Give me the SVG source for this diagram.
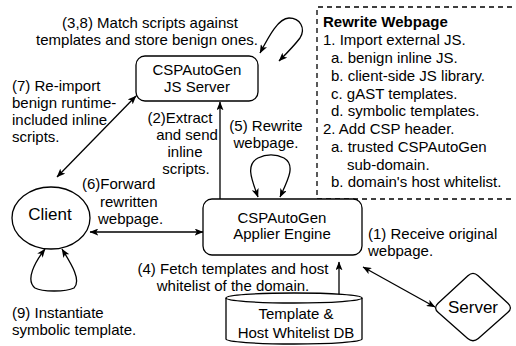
<svg xmlns="http://www.w3.org/2000/svg" width="516" height="346" viewBox="0 0 516 346">
<style>
text{font-family:"Liberation Sans",Arial,Helvetica,sans-serif;font-size:15px;fill:#000}
.m{text-anchor:middle}
.b{font-weight:bold}
.big{font-size:17px}
.shape{fill:#fff;stroke:#000;stroke-width:1.3}
.edge{fill:none;stroke:#000;stroke-width:1.3}
.dash{fill:none;stroke:#000;stroke-width:1.3;stroke-dasharray:5 4}
</style>
<defs>
<marker id="ah" viewBox="0 0 10 8" refX="9.5" refY="4" markerWidth="9" markerHeight="7" markerUnits="userSpaceOnUse" orient="auto-start-reverse">
<path d="M0,0 L10,4 L0,8 L2.5,4 z" fill="#000"/>
</marker>
</defs>

<g id="panel">
<path class="dash" d="M512 7 H317 V199 H512"/>
<text x="323" y="27" class="b">Rewrite Webpage</text>
<text x="323" y="45">1. Import external JS.</text>
<text x="331" y="63">a. benign inline JS.</text>
<text x="331" y="81">b. client-side JS library.</text>
<text x="331" y="99">c. gAST templates.</text>
<text x="331" y="116">d. symbolic templates.</text>
<text x="323" y="134">2. Add CSP header.</text>
<text x="331" y="152">a. trusted CSPAutoGen</text>
<text x="347" y="170">sub-domain.</text>
<text x="331" y="187">b. domain's host whitelist.</text>
</g>

<g id="connectors">
<line class="edge" x1="57" y1="177" x2="136" y2="96" marker-start="url(#ah)" marker-end="url(#ah)"/>
<line class="edge" x1="90" y1="232" x2="203" y2="232" marker-start="url(#ah)" marker-end="url(#ah)"/>
<line class="edge" x1="220" y1="202" x2="220" y2="102" marker-end="url(#ah)"/>
<line class="edge" x1="339" y1="262" x2="339" y2="303" marker-start="url(#ah)" marker-end="url(#ah)"/>
<line class="edge" x1="363" y1="267" x2="435" y2="307" marker-start="url(#ah)" marker-end="url(#ah)"/>
<path class="edge" d="M260 53 C268 38,278 18,289 18 C300 18,306 28,300 38 C294 46,286 54,279 61" marker-start="url(#ah)" marker-end="url(#ah)"/>
<path class="edge" d="M258 197 C252 180,245 165,258 158 C266 154,276 154,284 158 C296 165,288 180,280 197" marker-start="url(#ah)" marker-end="url(#ah)"/>
<path class="edge" d="M45 249 C35 262,25 280,35 288 C42 292,66 292,74 288 C82 280,70 262,62 249" marker-start="url(#ah)" marker-end="url(#ah)"/>
</g>

<g id="labels">
<text x="150" y="28" class="m">(3,8) Match scripts against</text>
<text x="147" y="45" class="m">templates and store benign ones.</text>
<text x="12" y="91">(7) Re-import</text>
<text x="12" y="108">benign runtime-</text>
<text x="12" y="125">included inline</text>
<text x="12" y="142">scripts.</text>
<text x="180" y="123" class="m">(2)Extract</text>
<text x="187" y="140" class="m">and send</text>
<text x="185" y="157" class="m">inline</text>
<text x="186" y="174" class="m">scripts.</text>
<text x="266" y="131" class="m">(5) Rewrite</text>
<text x="266" y="148" class="m">webpage.</text>
<text x="82" y="189">(6)Forward</text>
<text x="100" y="207">rewritten</text>
<text x="98" y="224">webpage.</text>
<text x="368" y="239">(1) Receive original</text>
<text x="368" y="256">webpage.</text>
<text x="233" y="274" class="m">(4) Fetch templates and host</text>
<text x="233" y="291" class="m">whitelist of the domain.</text>
<text x="12" y="318">(9) Instantiate</text>
<text x="12" y="335">symbolic template.</text>
</g>

<g id="js-server">
<rect class="shape" x="136" y="56" width="122" height="45" rx="9"/>
<text x="197" y="75" class="m">CSPAutoGen</text>
<text x="197" y="92" class="m">JS Server</text>
</g>

<g id="applier">
<rect class="shape" x="203" y="199" width="159" height="56" rx="9"/>
<text x="282" y="223" class="m">CSPAutoGen</text>
<text x="282" y="239" class="m">Applier Engine</text>
</g>

<g id="client">
<ellipse class="shape" cx="51" cy="218" rx="39" ry="31"/>
<text x="50" y="220" class="m big">Client</text>
</g>

<g id="server">
<path class="shape" d="M438.1 303.3 L467.9 275.7 Q473 271 478.1 275.7 L507.9 303.3 Q513 308 507.7 312.6 L478.3 338.4 Q473 343 467.7 338.4 L438.3 312.6 Q433 308 438.1 303.3 Z"/>
<text x="473" y="313" class="m big">Server</text>
</g>

<g id="db">
<path class="shape" d="M226 298 A68 5 0 0 1 362 298 V339 A68 5 0 0 1 226 339 Z"/>
<path class="edge" d="M226 298 A68 5 0 0 0 362 298"/>
<text x="296" y="319" class="m">Template &amp;</text>
<text x="296" y="338" class="m">Host Whitelist DB</text>
</g>
</svg>
